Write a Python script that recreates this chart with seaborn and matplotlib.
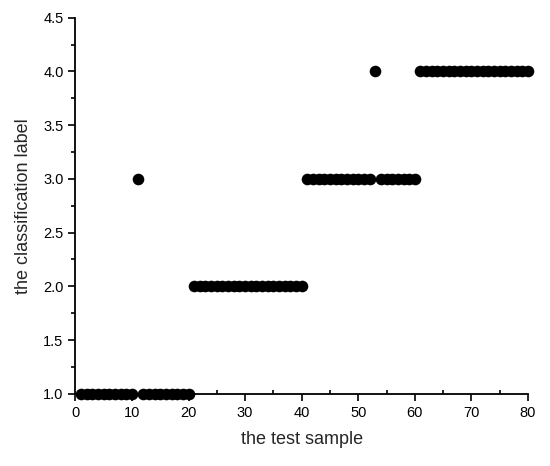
import numpy as np
import pandas as pd
import matplotlib
matplotlib.use("Agg")
import matplotlib.pyplot as plt
import seaborn as sns
from matplotlib.ticker import MultipleLocator

# test sample index and predicted classification label
sample = list(range(1, 81))
label = ([1] * 10 + [3] + [1] * 9 + [2] * 20 + [3] * 12 + [4] + [3] * 7 + [4] * 20)

df = pd.DataFrame({"sample": sample, "label": label})

sns.set_theme(style="ticks")
plt.rcParams["font.family"] = ["Liberation Sans", "DejaVu Sans"]

fig, ax = plt.subplots(figsize=(5.5, 4.66), dpi=100)
sns.scatterplot(data=df, x="sample", y="label", color="black", s=70,
                edgecolor="black", linewidth=0, ax=ax, clip_on=False, zorder=3)

ax.set_xlim(0, 80)
ax.set_ylim(1.0, 4.5)
ax.xaxis.set_major_locator(MultipleLocator(10))
ax.xaxis.set_minor_locator(MultipleLocator(5))
ax.yaxis.set_major_locator(MultipleLocator(0.5))
ax.yaxis.set_minor_locator(MultipleLocator(0.25))
ax.yaxis.set_major_formatter(matplotlib.ticker.FormatStrFormatter("%.1f"))

ax.tick_params(axis="both", which="major", direction="out", length=5, width=1.2,
               labelsize=10.5, color="black", labelcolor="black")
ax.tick_params(axis="x", which="minor", direction="in", length=3, width=1.2, color="black")
ax.tick_params(axis="y", which="minor", direction="out", length=3, width=1.2, color="black")

for s in ["left", "bottom"]:
    ax.spines[s].set_color("black")
    ax.spines[s].set_linewidth(1.3)
sns.despine(ax=ax)

ax.set_xlabel("the test sample", fontsize=13, labelpad=8)
ax.set_ylabel("the classification label", fontsize=13, labelpad=8)

fig.subplots_adjust(left=0.137, right=0.96, top=0.962, bottom=0.155)
fig.savefig("out.png", dpi=100)
